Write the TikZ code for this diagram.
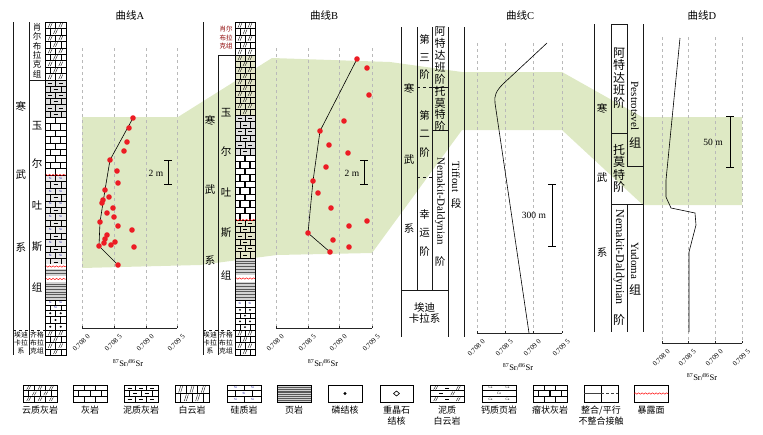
\documentclass[tikz,border=0pt]{standalone}
\usepackage{fontspec}
\setmainfont{Liberation Serif}
\newfontfamily\cjk{Noto Sans CJK SC}
\usetikzlibrary{decorations.pathmorphing}
\definecolor{bandgreen}{RGB}{222,233,196}
\definecolor{dotred}{RGB}{236,28,36}
\definecolor{olivetint}{RGB}{226,228,200}
\tikzset{
 lith/.style={line width=0.35pt,black},
 gridl/.style={gray!55,line width=0.5pt,dash pattern=on 3pt off 3pt},
 axisline/.style={gray!30!black,line width=0.6pt},
 curve/.style={black,line width=0.6pt},
 dotc/.style={fill=dotred,draw=none},
 ttl/.style={font=\fontsize{10.5}{12}\selectfont,inner sep=0},
 zh/.style={font=\cjk\fontsize{10.5}{12}\selectfont,inner sep=0},
 ticklab/.style={font=\fontsize{7}{7}\selectfont,rotate=45,anchor=east,inner sep=0},
 srlab/.style={font=\fontsize{8.5}{9}\selectfont,inner sep=0},
 colline/.style={line width=0.6pt,gray!20!black},
 wave/.style={red,line width=0.5pt,decorate,decoration={snake,amplitude=0.7pt,segment length=3.5pt}},
 legtxt/.style={font=\cjk\fontsize{9}{11}\selectfont,inner sep=0,align=center,anchor=north},
 sbar/.style={line width=0.6pt,black},
 sblab/.style={font=\fontsize{9.5}{11}\selectfont,inner sep=0},
 sitxt/.style={font=\fontsize{3.2}{3.5}\selectfont,inner sep=0,text=blue!60!black},
 catxt/.style={font=\fontsize{3.5}{3.8}\selectfont,inner sep=0},
 lat/.style={font=\fontsize{11}{12}\selectfont,inner sep=0},
}
% ---------- lithology helpers ----------
\newcommand\CNone[3]{}
\newcommand\CDolo[3]{\draw[lith] ({#1-2},{#3-1}) -- ({#1},{#2+1}) ({#1},{#3-1}) -- ({#1+2},{#2+1});}
\newcommand\CDash[3]{\draw[lith] ({#1-2},{(#2+#3)/2}) -- ({#1+2},{(#2+#3)/2});}
\newcommand\CSi[3]{\node[sitxt] (si\k\j) at (#1,{(#2+#3)/2}) {Si};}
\newcommand\CCa[3]{\node[catxt] (ca\k\j) at (#1,{(#2+#3)/2}) {Ca};}
\newcommand\CPhos[3]{\fill (#1,{(#2+#3)/2}) circle[radius=1.1pt];}
\newcommand\CSiDash[3]{\ifodd\k\relax\CSi{#1}{#2}{#3}\else\CDash{#1}{#2}{#3}\fi}
\newcommand\CMix[3]{\ifodd\j\relax\CDolo{#1}{#2}{#3}\else\CDash{#1}{#2}{#3}\fi}
% x0 x1 y0 y1 nrows nbricks cellmacro jointstyle
\newcommand\RowBand[8]{%
 \pgfmathsetmacro\LBh{(#4-#3)/#5}%
 \pgfmathsetmacro\LBw{(#2-#1)/#6}%
 \pgfmathsetmacro\LBlim{#2-0.8}%
 \pgfmathsetmacro\LBmin{#1+1.5}%
 \pgfmathsetmacro\LBmax{#2-1.5}%
 \foreach \k in {1,...,#5}{%
   \pgfmathsetmacro\LBya{#3+(\k-1)*\LBh}%
   \pgfmathsetmacro\LByb{#3+\k*\LBh}%
   \ifnum\k<#5\relax \draw[lith] (#1,\LByb) -- (#2,\LByb);\fi
   \pgfmathsetmacro\LBoff{ifthenelse(mod(\k,2)==1,1,0.5)}%
   \foreach \j in {1,...,#6}{%
     \pgfmathsetmacro\LBjx{#1+(\j-1+\LBoff)*\LBw}%
     \pgfmathsetmacro\LBcx{#1+(\j-1+\LBoff-0.5)*\LBw}%
     \ifdim\LBjx pt<\LBlim pt\relax \draw[lith,#8] (\LBjx,\LBya) -- (\LBjx,\LByb);\fi
     \ifdim\LBcx pt>\LBmin pt\relax\ifdim\LBcx pt<\LBmax pt\relax #7{\LBcx}{\LBya}{\LByb}\fi\fi
   }%
 }%
 \draw[lith] (#1,#3) rectangle (#2,#4);%
}
\newcommand\ShaleBand[5]{%
 \fill[gray!35] (#1,#3) rectangle (#2,#4);%
 \foreach \k in {1,...,#5}{\pgfmathsetmacro\LSy{#3+\k*(#4-#3)/(#5+1)}\draw[line width=0.3pt,gray!70!black] (#1,\LSy) -- (#2,\LSy);}%
 \draw[lith] (#1,#3) rectangle (#2,#4);%
}
\newcommand\PlotFrame[7]{%
 \foreach \gx in {#1,#2,#3,#4}{\draw[gridl] (\gx,#5) -- (\gx,#6);}%
 \draw[axisline] (#1,#6) -- (#4,#6);%
 \foreach \gx in {#1,#2,#3,#4}{\draw[axisline] (\gx,#6) -- (\gx,{#6-2.5});}%
 \node[ticklab] (#7t1) at ({#1+7},{#6+7}) {0.708\hspace{2pt}0};%
 \node[ticklab] (#7t2) at ({#2+7},{#6+7}) {0.708\hspace{2pt}5};%
 \node[ticklab] (#7t3) at ({#3+7},{#6+7}) {0.709\hspace{2pt}0};%
 \node[ticklab] (#7t4) at ({#4+7},{#6+7}) {0.709\hspace{2pt}5};%
}
\newcommand\ScaleBar[4]{% x ytop ybot name
 \draw[sbar] ({#1-4},#2) -- ({#1+4},#2) (#1,#2) -- (#1,#3) ({#1-4},#3) -- ({#1+4},#3);}
\newcommand\RDot[2]{\fill[dotc] (#1,#2) circle[radius=2.8pt];}

\begin{document}
\begin{tikzpicture}[x=1pt,y=-1pt]
\useasboundingbox (0,0) rectangle (763,434);

% ---------- correlation band ----------
\fill[bandgreen] (82,117) -- (178,117) -- (272,58) -- (390,62) -- (462,72) -- (562,72)
  -- (642,117) -- (742,117) -- (742,205) -- (643,205) -- (562,130) -- (462,130)
  -- (372,253) -- (277,255) -- (200,265) -- (82,268) -- cycle;

% ================= Panel A =================
\node[ttl] (tA) at (130,15) {{\cjk 曲线}A};
\draw[colline] (13,22) -- (13,355);
\draw[colline] (29,22) -- (29,355);
\draw[colline] (29,80) -- (45,80);
\draw[colline,dashed] (13,330) -- (45,330);
\node[zh] (a1) at (21,106) {寒};
\node[zh] (a2) at (21,175) {武};
\node[zh] (a3) at (21,247) {系};
\node[zh,font=\cjk\fontsize{8.5}{9.4}\selectfont,align=center] (a4) at (37,50.5) {肖\\尔\\布\\拉\\克\\组};
\node[zh] (a5) at (37,126) {玉};
\node[zh] (a6) at (37,164) {尔};
\node[zh] (a7) at (37,205) {吐};
\node[zh] (a8) at (37,247) {斯};
\node[zh] (a9) at (37,287) {组};
\node[zh,font=\cjk\fontsize{6.8}{8}\selectfont,align=center] (a10) at (21,343) {埃迪\\卡拉\\系};
\node[zh,font=\cjk\fontsize{6.8}{8}\selectfont,align=center] (a11) at (37,343) {齐格\\布拉\\克组};
% lithology column A
\fill[white] (45,22) rectangle (66,355);
\RowBand{45}{66}{22}{80}{9}{2}{\CDolo}{}
\fill[gray!25] (45,80) rectangle (66,117);
\RowBand{45}{66}{80}{117}{6}{2}{\CDash}{}
\RowBand{45}{66}{117}{175}{9}{2}{\CNone}{line width=1.2pt}
\fill[gray!18] (45,175) rectangle (66,265);
\RowBand{45}{66}{175}{265}{14}{2}{\CSiDash}{}
\ShaleBand{45}{66}{265}{300}{12}
\RowBand{45}{66}{300}{310}{2}{2}{\CSi}{}
\RowBand{45}{66}{310}{330}{3}{2}{\CPhos}{line width=1pt}
\RowBand{45}{66}{330}{355}{4}{2}{\CDolo}{}
\draw[wave] (45,175) -- (66,175);
\fill[white] (45,264) rectangle (66,269);
\draw[wave] (45,266.5) -- (66,266.5);
\fill[white] (45,276) rectangle (66,282);
\draw[wave] (45,279) -- (66,279);
\draw[lith] (45,22) rectangle (66,355);
% plot A
\PlotFrame{82}{114}{146}{177}{48}{328}{pa}
\node[srlab] (srA) at (128,363) {\textsuperscript{87}Sr/\textsuperscript{86}Sr};
\draw[curve] (133,118) -- (110,160) -- (105,190) -- (100,222) -- (99,246) -- (118,265);
\foreach \px/\py in {133/118,129/128,127/142,124/151,110/160,117/171,118/183,105/190,109/197,103/200,102/203,113/208,107/213,114/217,100/222,118/226,132/230,107/235,105/239,104/243,115/242,111/245,99/246,134/247,118/265}{\RDot{\px}{\py}}
\ScaleBar{168}{160}{184}{sA}
\node[sblab] (sAl) at (156,173) {2 m};

% ================= Panel B =================
\node[ttl] (tB) at (324,15) {{\cjk 曲线}B};
\draw[colline] (203,22) -- (203,355);
\draw[colline] (218,55) -- (218,355);
\draw[colline] (218,55) -- (235,55);
\draw[colline,dashed] (203,330) -- (235,330);
\node[zh] (b1) at (210,120) {寒};
\node[zh] (b2) at (210,190) {武};
\node[zh] (b3) at (210,260) {系};
\node[zh,font=\cjk\fontsize{6.5}{8.5}\selectfont,align=center,text=red!55!black] (b4) at (226,38) {肖尔\\布拉\\克组};
\node[zh] (b5) at (226,113) {玉};
\node[zh] (b6) at (226,152) {尔};
\node[zh] (b7) at (226,192) {吐};
\node[zh] (b8) at (226,233) {斯};
\node[zh] (b9) at (226,275) {组};
\node[zh,font=\cjk\fontsize{6.8}{8}\selectfont,align=center] (b10) at (210,343) {埃迪\\卡拉\\系};
\node[zh,font=\cjk\fontsize{6.8}{8}\selectfont,align=center] (b11) at (226,343) {齐格\\布拉\\克组};
% lithology column B
\fill[white] (235,22) rectangle (255,355);
\RowBand{235}{255}{22}{55}{5}{2}{\CDolo}{}
\fill[olivetint] (235,55) rectangle (255,115);
\RowBand{235}{255}{55}{115}{10}{2}{\CDolo}{}
\fill[gray!25] (235,115) rectangle (255,155);
\RowBand{235}{255}{115}{155}{6}{2}{\CDash}{}
\RowBand{235}{255}{155}{220}{10}{2}{\CNone}{line width=1.1pt}
\fill[olivetint] (235,220) rectangle (255,258);
\RowBand{235}{255}{220}{258}{6}{2}{\CDash}{}
\ShaleBand{235}{255}{258}{300}{14}
\RowBand{235}{255}{300}{307}{1}{2}{\CSi}{}
\RowBand{235}{255}{307}{330}{4}{2}{\CPhos}{line width=1pt}
\RowBand{235}{255}{330}{355}{4}{2}{\CDolo}{}
\draw[wave] (235,220) -- (255,220);
\fill[white] (235,275) rectangle (255,282);
\draw[wave] (235,278.5) -- (255,278.5);
\draw[lith] (235,22) rectangle (255,355);
% plot B
\PlotFrame{276}{308}{339}{372}{48}{328}{pb}
\node[srlab] (srB) at (323,363) {\textsuperscript{87}Sr/\textsuperscript{86}Sr};
\draw[curve] (357,59) -- (320,131) -- (313,181) -- (308,233) -- (330,252);
\foreach \px/\py in {357/59,367/68,369/95,344/121,320/131,329/145,348/153,326/167,313/181,318/193,331/208,367/221,349/226,308/233,333/240,349/247,330/252}{\RDot{\px}{\py}}
\ScaleBar{364}{160}{184}{sB}
\node[sblab] (sBl) at (352,173) {2 m};

% ================= Panel C =================
\node[ttl] (tC) at (520,15) {{\cjk 曲线}C};
\draw[colline] (401,27) -- (401,337);
\draw[colline] (417,27) -- (417,290);
\draw[colline] (432,27) -- (432,290);
\draw[colline] (448,27) -- (448,337);
\draw[colline] (464,27) -- (464,337);
\draw[colline] (401,290) -- (448,290);
\draw[colline] (432,87) -- (448,87);
\draw[colline] (432,130) -- (448,130);
\draw[colline,dashed] (417,87) -- (432,87);
\draw[colline,dashed] (417,177) -- (432,177);
\node[zh] (c1) at (409,88) {寒};
\node[zh] (c2) at (409,160) {武};
\node[zh] (c3) at (409,228) {系};
\node[zh,font=\cjk\fontsize{10.5}{17.5}\selectfont,align=center] (c4) at (424.5,57.5) {第\\三\\阶};
\node[zh,font=\cjk\fontsize{10.5}{18.5}\selectfont,align=center] (c5) at (424.5,134) {第\\二\\阶};
\node[zh,font=\cjk\fontsize{10.5}{18.5}\selectfont,align=center] (c6) at (424.5,233) {幸\\运\\阶};
\node[zh,font=\cjk\fontsize{11}{12}\selectfont,align=center] (c7) at (440,56) {阿\\特\\达\\班\\阶};
\node[zh,font=\cjk\fontsize{11}{11.5}\selectfont,align=center] (c8) at (440,109) {托\\莫\\特\\阶};
\node[lat,rotate=-90] (c9) at (440,201) {Nemakit-Daldynian};
\node[zh] (c10) at (440,262) {阶};
\node[lat,rotate=-90] (c11) at (456,177) {Tiffout};
\node[zh] (c12) at (456,203) {段};
\node[zh,font=\cjk\fontsize{10.5}{10.5}\selectfont,align=center] (c13) at (424.5,313) {埃迪\\卡拉系};
% plot C
\PlotFrame{477}{505}{533}{562}{43}{333}{pc}
\node[srlab] (srC) at (518,367) {\textsuperscript{87}Sr/\textsuperscript{86}Sr};
\draw[curve] (547,43) -- (503,84) .. controls (496,91) and (494,96) .. (495,103) -- (529,333);
\ScaleBar{552}{184}{246}{sC}
\node[sblab] (sCl) at (534,215) {300 m};

% ================= Panel D =================
\node[ttl] (tD) at (702,15) {{\cjk 曲线}D};
\draw[colline] (594,24) -- (594,332);
\draw[colline] (611,24) -- (611,332);
\draw[colline] (627,24) -- (627,166);
\draw[colline] (627,204) -- (627,332);
\draw[colline] (643,24) -- (643,332);
\draw[colline] (611,24) -- (627,24);
\draw[colline] (611,133) -- (627,133);
\draw[colline] (627,166) -- (643,166);
\draw[colline] (611,204) -- (643,204);
\node[zh] (d1) at (602,108) {寒};
\node[zh] (d2) at (602,178) {武};
\node[zh] (d3) at (602,252) {系};
\node[zh,font=\cjk\fontsize{12}{12.5}\selectfont,align=center] (d4) at (619,78) {阿\\特\\达\\班\\阶};
\node[zh,font=\cjk\fontsize{12}{12.4}\selectfont,align=center] (d5) at (619,168.5) {托\\莫\\特\\阶};
\node[lat,font=\fontsize{12}{13}\selectfont,rotate=-90] (d6) at (619,257) {Nemakit-Daldynian};
\node[zh,font=\cjk\fontsize{12}{13}\selectfont] (d7) at (619,320) {阶};
\node[lat,rotate=-90] (d8) at (635,106) {Pestrotsvel};
\node[zh,font=\cjk\fontsize{12}{13}\selectfont] (d9) at (635,143) {组};
\node[lat,rotate=-90] (d10) at (635,261) {Yudoma};
\node[zh,font=\cjk\fontsize{12}{13}\selectfont] (d11) at (635,290) {组};
% plot D
\PlotFrame{662}{688}{715}{742}{37}{343}{pd}
\node[srlab] (srD) at (702,377) {\textsuperscript{87}Sr/\textsuperscript{86}Sr};
\draw[curve] (680,38) -- (666,180) -- (666,197) -- (671,208) -- (695,213) -- (696,225) -- (689,252) -- (689,332);
\ScaleBar{730}{116}{167}{sD}
\node[sblab] (sDl) at (713,142) {50 m};

% ================= Legend =================
\RowBand{23}{57}{385}{402}{3}{3}{\CDolo}{}
\node[legtxt] (l1) at (40,406) {云质灰岩};
\RowBand{73}{107}{385}{402}{3}{3}{\CNone}{}
\node[legtxt] (l2) at (90,406) {灰岩};
\RowBand{124}{158}{385}{402}{3}{3}{\CDash}{}
\node[legtxt] (l3) at (141,406) {泥质灰岩};
\RowBand{175}{209}{385}{402}{2}{3}{\CDolo}{}
\node[legtxt] (l4) at (192,406) {白云岩};
\RowBand{227}{261}{385}{402}{3}{2}{\CSi}{}
\node[legtxt] (l5) at (244,406) {硅质岩};
\ShaleBand{277}{311}{385}{402}{8}
\node[legtxt] (l6) at (294,406) {页岩};
\draw[lith] (328,385) rectangle (362,402);
\fill (345,393.5) circle[radius=1.6pt];
\node[legtxt] (l7) at (345,406) {磷结核};
\draw[lith] (380,385) rectangle (413,402);
\draw[lith,line width=0.6pt] (393.5,393.5) -- (396.5,391) -- (399.5,393.5) -- (396.5,396) -- cycle;
\node[legtxt] (l8) at (396.5,406) {重晶石\\结核};
\RowBand{430}{464}{385}{402}{3}{3}{\CMix}{draw=none}
\node[legtxt] (l9) at (447,406) {泥质\\白云岩};
\RowBand{482}{516}{385}{402}{3}{2}{\CCa}{draw=none}
\node[legtxt] (l10) at (499,406) {钙质页岩};
\RowBand{533}{567}{385}{402}{3}{3}{\CNone}{line width=1.2pt}
\node[legtxt] (l11) at (550,406) {瘤状灰岩};
\draw[lith] (584,385) rectangle (618,402);
\draw[lith] (601,385) -- (601,402);
\draw[gray!50!black,line width=0.9pt] (584,393.5) -- (601,393.5);
\draw[gray!50!black,line width=0.9pt,dash pattern=on 3pt off 2pt] (601,393.5) -- (618,393.5);
\node[legtxt] (l12) at (601,406) {整合/平行\\不整合接触};
\draw[lith] (634,385) rectangle (668,402);
\draw[wave] (634,393.5) -- (668,393.5);
\node[legtxt] (l13) at (651,406) {暴露面};
\end{tikzpicture}
\end{document}
